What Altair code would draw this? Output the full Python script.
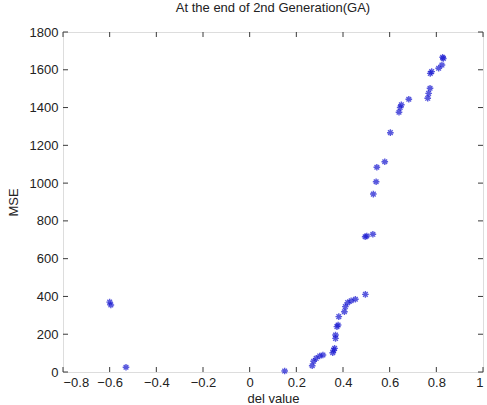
import altair as alt
import pandas as pd

del_value = [-0.600, -0.595, -0.530, 0.150,
             0.268, 0.274, 0.285, 0.300, 0.314,
             0.356, 0.360, 0.364, 0.368, 0.368, 0.374, 0.379, 0.382,
             0.406, 0.410, 0.420, 0.435, 0.453, 0.496,
             0.495, 0.502, 0.528,
             0.530, 0.542, 0.545, 0.579, 0.603,
             0.640, 0.645, 0.650, 0.682,
             0.763, 0.767, 0.773, 0.774, 0.780, 0.810, 0.824, 0.827, 0.830]
mse = [370, 355, 25, 5,
       33, 57, 72, 85, 90,
       102, 116, 125, 178, 196, 240, 249, 293,
       319, 346, 367, 377, 385, 411,
       716, 720, 729,
       942, 1007, 1084, 1113, 1267,
       1375, 1400, 1415, 1444,
       1449, 1475, 1502, 1581, 1590, 1608, 1625, 1666, 1660]

x_ticks = [-0.8, -0.6, -0.4, -0.2, 0, 0.2, 0.4, 0.6, 0.8, 1]
y_ticks = [0, 200, 400, 600, 800, 1000, 1200, 1400, 1600, 1800]

W, H = 420, 340
df = pd.DataFrame({"del": del_value, "mse": mse})
xt = pd.DataFrame({"del": x_ticks})
yt = pd.DataFrame({"mse": y_ticks})

xs = alt.Scale(domain=[-0.8, 1], nice=False, zero=False)
ys = alt.Scale(domain=[0, 1800], nice=False)

asterisk = "M-1,0L1,0M0,-1L0,1M-0.7,-0.7L0.7,0.7M-0.7,0.7L0.7,-0.7"
FONT = "Liberation Sans"
TXT = "#222222"
FS = 13

xaxis = alt.Axis(values=x_ticks, tickSize=0, labelPadding=4,
                 titlePadding=3, grid=False, domain=False,
                 labelOverlap=False, labelFont=FONT, titleFont=FONT,
                 labelFontSize=FS, titleFontSize=FS,
                 labelColor=TXT, titleColor=TXT,
                 titleFontWeight="normal",
                 labelExpr="replace(format(datum.value, '~g'), '-', '\u2212')")
yaxis = alt.Axis(values=y_ticks, tickSize=0, labelPadding=5,
                 titlePadding=9, grid=False, domain=False,
                 labelOverlap=False, format="d",
                 labelFont=FONT, titleFont=FONT,
                 labelFontSize=FS, titleFontSize=FS,
                 labelColor=TXT, titleColor=TXT,
                 titleFontWeight="normal")

X = alt.X("del:Q", scale=xs, title="del value", axis=xaxis)
Y = alt.Y("mse:Q", scale=ys, title="MSE", axis=yaxis)

points = alt.Chart(df).mark_point(
    shape=asterisk, filled=False, color="#1414d0", size=44, strokeWidth=1.4
).encode(x=X, y=Y)

tc = "#3a3a3a"
tb = alt.Chart(xt).mark_rule(color=tc, strokeWidth=1).encode(
    x=X, y=alt.value(H), y2=alt.value(H - 5))
tt = alt.Chart(xt).mark_rule(color=tc, strokeWidth=1).encode(
    x=X, y=alt.value(0), y2=alt.value(5))
tl = alt.Chart(yt).mark_rule(color=tc, strokeWidth=1).encode(
    y=Y, x=alt.value(0), x2=alt.value(5))
tr = alt.Chart(yt).mark_rule(color=tc, strokeWidth=1).encode(
    y=Y, x=alt.value(W), x2=alt.value(W - 5))

chart = alt.layer(points, tb, tt, tl, tr).properties(
    width=W, height=H,
    title=alt.TitleParams("At the end of 2nd Generation(GA)", fontSize=13,
                          fontWeight="normal", font=FONT,
                          color=TXT, offset=11),
    autosize=alt.AutoSizeParams(type="none"),
    padding={"left": 63, "top": 32, "right": 4, "bottom": 33},
).configure_view(stroke=tc, strokeWidth=1).configure(background="white")

chart.save("out.html", embed_options={"renderer": "svg", "actions": False})
